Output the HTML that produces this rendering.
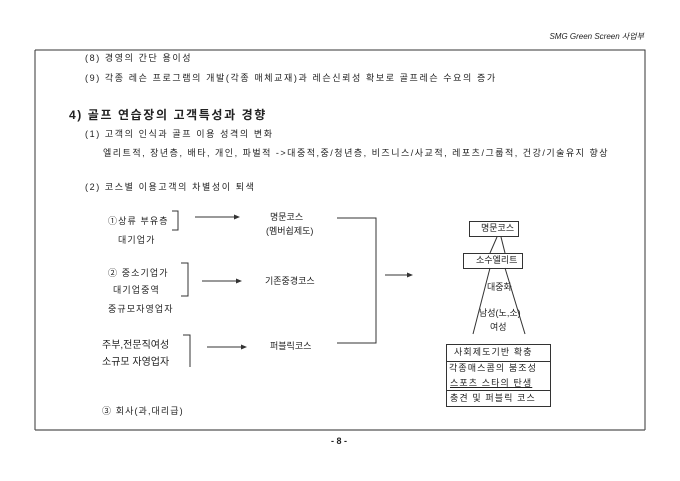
<!DOCTYPE html>
<html><head><meta charset="utf-8"><style>
body{margin:0;width:680px;height:481px;background:#fff;position:relative;overflow:hidden;font-family:"Liberation Sans","Noto Sans CJK KR","NanumGothic",sans-serif;color:#222}
.t{position:absolute;font-size:9px;white-space:nowrap;line-height:1}
.s{letter-spacing:1.6px}
.s2{letter-spacing:1.1px}
svg{position:absolute;left:0;top:0}
</style></head><body>
<svg width="680" height="481">
<g stroke="#333" stroke-width="1" fill="none">
<polyline points="35,50 645,50 645,430"/>
<line x1="35" y1="50" x2="35" y2="430"/>
<line x1="35" y1="430" x2="645" y2="430" stroke="#555" stroke-width="1.2"/>
<polyline points="172,211 178,211 178,230 172,230"/>
<polyline points="181,263 188,263 188,296 181,296"/>
<polyline points="183,335 190,335 190,367"/>
<line x1="195" y1="217" x2="236" y2="217"/>
<line x1="202" y1="281" x2="238" y2="281"/>
<line x1="207" y1="347" x2="243" y2="347"/>
<polyline points="337,218 376,218 376,343 337,343"/>
<line x1="385" y1="275" x2="409" y2="275"/>
<rect x="469.5" y="221.5" width="49" height="15"/>
<rect x="463.5" y="253.5" width="59" height="15"/>
<line x1="497" y1="237" x2="490" y2="253"/>
<line x1="501" y1="237" x2="505" y2="253"/>
<line x1="490" y1="268" x2="473" y2="334"/>
<line x1="505" y1="268" x2="525" y2="334"/>
<rect x="446.5" y="344.5" width="104" height="62"/>
<line x1="446" y1="361.5" x2="551" y2="361.5"/>
<line x1="446" y1="390.5" x2="551" y2="390.5"/>
</g>
<g fill="#333">
<polygon points="240,217 234,214.5 234,219.5"/>
<polygon points="242,281 236,278.5 236,283.5"/>
<polygon points="247,347 241,344.5 241,349.5"/>
<polygon points="413,275 407,272.5 407,277.5"/>
</g>
</svg>
<div class="t" style="right:36px;top:33px;font-style:italic;font-size:8px">SMG Green Screen 사업부</div>
<div class="t s" style="left:85px;top:54px">(8) 경영의 간단 용이성</div>
<div class="t s" style="left:85px;top:74px">(9) 각종 레슨 프로그램의 개발(각종 매체교재)과 레슨신뢰성 확보로 골프레슨 수요의 증가</div>
<div class="t s" style="left:69px;top:109px;font-size:12px;font-weight:bold">4) 골프 연습장의 고객특성과 경향</div>
<div class="t s" style="left:85px;top:130px">(1) 고객의 인식과 골프 이용 성격의 변화</div>
<div class="t" style="left:103px;top:149px;letter-spacing:1.5px">엘리트적, 장년층, 배타, 개인, 파벌적 -&gt;대중적,중/청년층, 비즈니스/사교적, 레포츠/그룹적, 건강/기술유지 향상</div>
<div class="t s" style="left:85px;top:183px">(2) 코스별 이용고객의 차별성이 퇴색</div>
<div class="t s2" style="left:108px;top:217px">①상류 부유층</div>
<div class="t s2" style="left:118px;top:236px">대기업가</div>
<div class="t" style="left:270px;top:213px">명문코스</div>
<div class="t" style="left:266px;top:227px">(멤버쉽제도)</div>
<div class="t s2" style="left:108px;top:269px">② 중소기업가</div>
<div class="t s2" style="left:113px;top:286px">대기업중역</div>
<div class="t s2" style="left:108px;top:305px">중규모자영업자</div>
<div class="t" style="left:265px;top:277px">기존중경코스</div>
<div class="t" style="left:102px;top:341px;font-size:10px">주부,전문직여성</div>
<div class="t" style="left:102px;top:358px;font-size:10px">소규모 자영업자</div>
<div class="t" style="left:270px;top:342px">퍼블릭코스</div>
<div class="t" style="left:481px;top:224px">명문코스</div>
<div class="t" style="left:476px;top:256px">소수엘리트</div>
<div class="t" style="left:487px;top:283px">대중화</div>
<div class="t" style="left:479px;top:309px">남성(노,소)</div>
<div class="t" style="left:490px;top:323px">여성</div>
<div class="t s2" style="left:454px;top:348px">사회제도기반 확충</div>
<div class="t s2" style="left:449px;top:364px">각종매스콤의 붐조성</div>
<div class="t s2" style="left:450px;top:379px;text-decoration:underline">스포츠 스타의 탄생</div>
<div class="t s2" style="left:450px;top:394px">충견 및 퍼블릭 코스</div>
<div class="t s2" style="left:102px;top:407px">③ 회사(과,대리급)</div>
<div class="t" style="left:331px;top:437px;font-weight:bold">- 8 -</div>
</body></html>
